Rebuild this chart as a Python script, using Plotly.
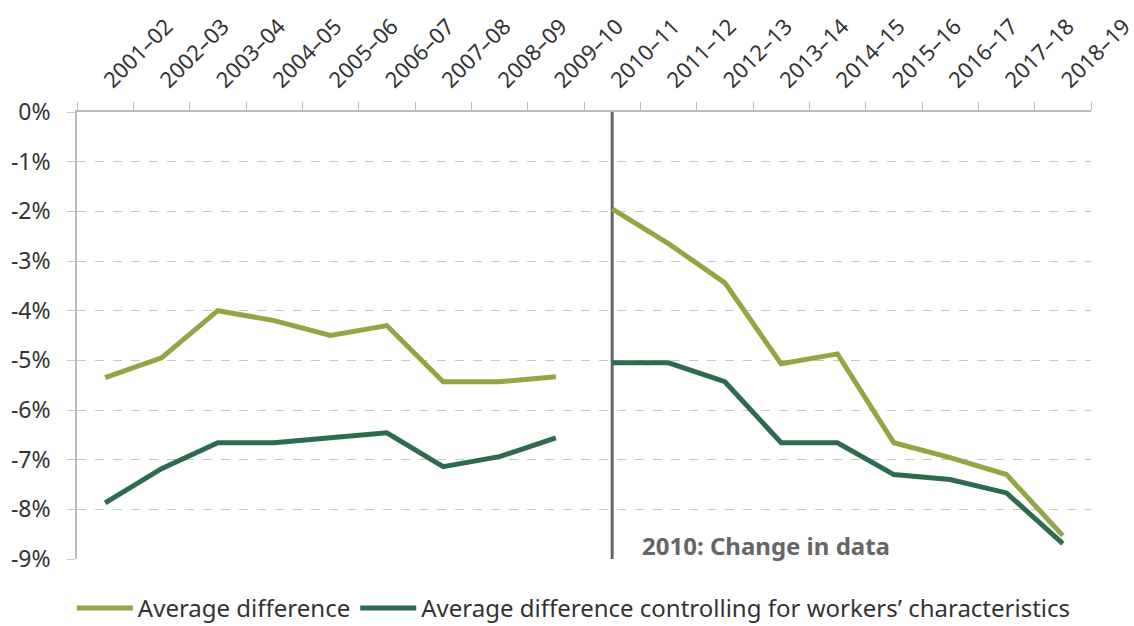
import plotly.graph_objects as go

categories = ["2001–02", "2002–03", "2003–04", "2004–05", "2005–06", "2006–07",
              "2007–08", "2008–09", "2009–10", "2010–11", "2011–12", "2012–13",
              "2013–14", "2014–15", "2015–16", "2016–17", "2017–18", "2018–19"]

# values in percent; None marks the break in the series (change in data)
avg_diff = [-5.35, -4.95, -4.0, -4.2, -4.5, -4.3, -5.43, -5.43, -5.33, None,
            -1.95, -2.65, -3.44, -5.07, -4.87, -6.66, -6.96, -7.3, -8.53]
avg_diff_ctrl = [-7.87, -7.18, -6.66, -6.66, -6.56, -6.46, -7.14, -6.94, -6.56, None,
                 -5.05, -5.05, -5.43, -6.66, -6.66, -7.3, -7.4, -7.67, -8.69]
x_vals = categories[:9] + [None] + categories[9:]

y_tickvals = [0, -1, -2, -3, -4, -5, -6, -7, -8, -9]
y_ticktext = ["0%", "-1%", "-2%", "-3%", "-4%", "-5%", "-6%", "-7%", "-8%", "-9%"]

break_category = "2010–11"
break_label = "2010: Change in data"

light_green = "#94A545"
dark_green = "#2E6B4E"
font_family = "Noto Sans"

fig = go.Figure()
fig.add_trace(go.Scatter(x=x_vals, y=avg_diff, mode="lines", name="Average difference",
                         line=dict(color=light_green, width=5), connectgaps=False))
fig.add_trace(go.Scatter(x=x_vals, y=avg_diff_ctrl, mode="lines",
                         name="Average difference controlling for workers’ characteristics",
                         line=dict(color=dark_green, width=5), connectgaps=False))

fig.add_shape(type="line", xref="x", yref="y", x0=break_category, x1=break_category,
              y0=0, y1=-9, line=dict(color="#666666", width=3), layer="below")
fig.add_annotation(x=break_category, y=-8.72, xref="x", yref="y", text="<b>" + break_label + "</b>",
                   showarrow=False, xanchor="left", yanchor="middle", xshift=28,
                   font=dict(family=font_family, size=24, color="#666666"))

fig.update_layout(
    width=1134, height=626,
    margin=dict(l=77, r=43, t=112, b=67),
    paper_bgcolor="white", plot_bgcolor="white",
    font=dict(family=font_family, size=23, color="#333333"),
    showlegend=True,
    legend=dict(orientation="h", x=0.49, xanchor="center", yref="container", y=0.028,
                yanchor="middle", font=dict(size=24, color="#333333"),
                itemwidth=56, tracegroupgap=0),
)
fig.update_xaxes(type="category", categoryorder="array", categoryarray=categories,
                 side="top", tickangle=-45, tickson="boundaries", ticks="outside",
                 ticklen=8, tickcolor="#BBBBBB", showgrid=False, showline=True,
                 linecolor="#BBBBBB", linewidth=1.5, range=[-0.5, len(categories) - 0.5],
                 tickfont=dict(size=22, color="#333333"), zeroline=False, automargin=False,
                 ticklabelstandoff=9)
fig.update_yaxes(range=[-9, 0], tickvals=y_tickvals, ticktext=y_ticktext,
                 showgrid=True, gridcolor="#C8C8C8", griddash="dash", gridwidth=1,
                 showline=True, linecolor="#BBBBBB", linewidth=1.5, zeroline=False,
                 ticks="outside", ticklen=8, tickcolor="#C8C8C8",
                 tickfont=dict(size=23, color="#333333"), automargin=False,
                 ticklabelstandoff=12)

fig.write_html("out.html", config={"displayModeBar": False},
               post_script="document.body.style.margin='0';")
